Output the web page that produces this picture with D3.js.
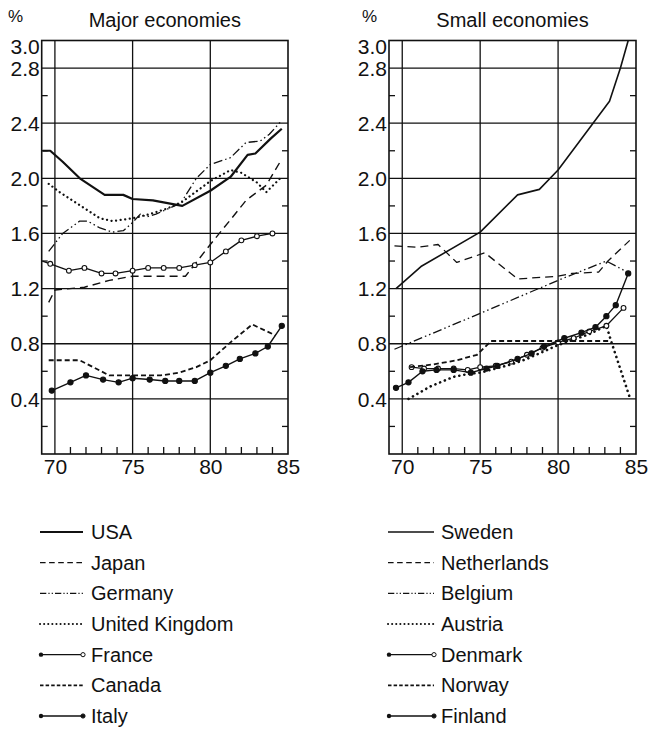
<!DOCTYPE html>
<html><head><meta charset="utf-8">
<script src="https://cdn.jsdelivr.net/npm/d3@7"></script>
<style>
html,body{margin:0;padding:0;background:#fff;}
text{font-family:"Liberation Sans",Arial,Helvetica,sans-serif;fill:#111;}
</style></head>
<body><svg id="c" width="650" height="732"></svg>
<script>
// ---- data (year, % value) ----
const usa = [[69.2,2.20],[69.7,2.20],[70.5,2.12],[71.6,2.00],[73.2,1.88],[74.4,1.88],[75,1.85],[76.3,1.84],[78.2,1.80],[80,1.91],[81.3,2.01],[82.4,2.17],[82.9,2.18],[83.9,2.29],[84.6,2.36]];
const japan = [[69.6,1.10],[70,1.19],[71.9,1.21],[73.5,1.26],[75,1.29],[78.4,1.29],[80,1.52],[81.3,1.70],[82.3,1.84],[83.6,1.95],[84.6,2.14]];
const germany = [[69.6,1.47],[70.5,1.60],[71.6,1.69],[72.1,1.69],[72.9,1.64],[73.7,1.61],[74.4,1.62],[75,1.68],[75.5,1.74],[75.9,1.72],[76.5,1.74],[78.1,1.82],[79.1,2.00],[80,2.10],[81.3,2.15],[82.3,2.26],[83.2,2.27],[83.8,2.32],[84.6,2.42]];
const uk = [[69.6,1.96],[70.3,1.90],[72.9,1.71],[73.7,1.69],[75,1.71],[76.1,1.74],[77.2,1.78],[78.2,1.83],[80,1.98],[81.3,2.06],[82,2.04],[83,1.97],[83.6,1.90],[84.5,2.00]];
const france = [[69.2,1.40],[69.7,1.38],[70.9,1.33],[71.9,1.35],[73,1.31],[73.9,1.31],[75,1.33],[76,1.35],[77,1.35],[78,1.35],[79,1.37],[80,1.39],[81,1.47],[82,1.55],[83,1.58],[84,1.60]];
const canada = [[69.6,0.68],[71.6,0.68],[73.5,0.57],[76.8,0.57],[78,0.59],[79.1,0.63],[80,0.68],[81.3,0.81],[82.7,0.94],[84.2,0.86]];
const italy = [[69.8,0.46],[71,0.52],[72,0.57],[73.1,0.54],[74.1,0.52],[75,0.55],[76.1,0.54],[77.1,0.53],[78,0.53],[79,0.53],[80,0.59],[81,0.64],[81.9,0.69],[82.9,0.73],[83.7,0.78],[84.6,0.93]];

const sweden = [[69.6,1.20],[71.2,1.36],[75,1.61],[77.4,1.88],[78.8,1.92],[80,2.06],[83.3,2.56],[84,2.80],[84.5,3.0]];
const netherlands = [[69.5,1.51],[71,1.50],[72.3,1.52],[73.5,1.39],[75.3,1.46],[77.4,1.27],[80,1.29],[80.9,1.31],[82.6,1.32],[83.2,1.40],[84.6,1.55]];
const belgium = [[69.5,0.76],[75,1.02],[80,1.26],[83.1,1.40],[84.6,1.31]];
const austria = [[70.4,0.40],[71.8,0.49],[73.3,0.56],[74.2,0.58],[75,0.59],[76,0.62],[77,0.65],[78,0.69],[79,0.74],[80,0.79],[81,0.83],[82,0.87],[83.1,0.93],[83.4,0.82],[84.6,0.41]];
const denmark = [[70.6,0.63],[71.4,0.62],[72.3,0.62],[73.3,0.62],[74.2,0.61],[75,0.63],[76,0.64],[77,0.67],[78,0.72],[79,0.77],[80,0.81],[81,0.84],[82,0.89],[83.1,0.93],[84.2,1.06]];
const norway = [[70.5,0.63],[72,0.65],[73.5,0.68],[74.8,0.72],[75.7,0.82],[83.4,0.82]];
const finland = [[69.6,0.48],[70.4,0.52],[71.3,0.60],[72.2,0.61],[73.3,0.61],[74.4,0.59],[75.4,0.62],[76.1,0.64],[77.4,0.69],[78.3,0.73],[79.1,0.78],[80.4,0.84],[81.5,0.88],[82.4,0.92],[83.1,1.00],[83.7,1.08],[84.5,1.31]];

const majorNames = ["USA","Japan","Germany","United Kingdom","France","Canada","Italy"];
const smallNames = ["Sweden","Netherlands","Belgium","Austria","Denmark","Norway","Finland"];
const titles = ["Major economies","Small economies"];
const yLabelValues = [0.4,0.8,1.2,1.6,2.0,2.4,2.8,3.0];
const gridY = [0.4,0.8,1.2,1.6,2.0,2.4,2.8];
const minorY = [0.2,0.6,1.0,1.4,1.8,2.2,2.6];
const xLabelValues = [70,75,80,85];
const gridX = [70,75,80];
const minorX = [71,72,73,74,76,77,78,79,81,82,83,84];

// ---- styles ----
const styles = {
  "USA":{w:2.2,dash:null},
  "Japan":{w:1.4,dash:"8,5"},
  "Germany":{w:1.3,dash:"9,3,1.5,3,1.5,3"},
  "United Kingdom":{w:2.2,dash:"0.1,4.5",cap:"round"},
  "France":{w:1.3,dash:null,marker:"open"},
  "Canada":{w:1.8,dash:"5,3"},
  "Italy":{w:1.4,dash:null,marker:"filled"},
  "Sweden":{w:1.6,dash:null},
  "Netherlands":{w:1.3,dash:"8,5"},
  "Belgium":{w:1.3,dash:"9,3,1.5,3,1.5,3"},
  "Austria":{w:2.6,dash:"0.1,5",cap:"round"},
  "Denmark":{w:1.3,dash:null,marker:"open"},
  "Norway":{w:1.8,dash:"5,3"},
  "Finland":{w:1.4,dash:null,marker:"filled"}
};
const majorData = [usa,japan,germany,uk,france,canada,italy];
const smallData = [sweden,netherlands,belgium,austria,denmark,norway,finland];

const svg = d3.select("#c");
const y = d3.scaleLinear().domain([0,3]).range([454,40.5]);
const xL = d3.scaleLinear().domain([69.15,85]).range([41.7,288]);
const xR = d3.scaleLinear().domain([69.15,85]).range([389,636]);
const INK = "#111";

function panel(x, title, names, data, pctX) {
  const g = svg.append("g");
  const [x0,x1] = x.range();
  const [yb,yt] = y.range();
  // grid
  g.selectAll(".gh").data(gridY).join("line")
    .attr("x1",x0).attr("x2",x1).attr("y1",d=>y(d)).attr("y2",d=>y(d))
    .attr("stroke",INK).attr("stroke-width",1.3);
  g.selectAll(".gv").data(gridX).join("line")
    .attr("x1",d=>x(d)).attr("x2",d=>x(d)).attr("y1",yb).attr("y2",yt)
    .attr("stroke",INK).attr("stroke-width",1.3);
  // minor ticks on both sides
  minorY.forEach(v=>{
    g.append("line").attr("x1",x0).attr("x2",x0+6).attr("y1",y(v)).attr("y2",y(v)).attr("stroke",INK).attr("stroke-width",1.3);
    g.append("line").attr("x1",x1-6).attr("x2",x1).attr("y1",y(v)).attr("y2",y(v)).attr("stroke",INK).attr("stroke-width",1.3);
  });
  g.selectAll(".mx").data(minorX).join("line")
    .attr("x1",d=>x(d)).attr("x2",d=>x(d)).attr("y1",yb).attr("y2",yb-7)
    .attr("stroke",INK).attr("stroke-width",1.3);
  // frame
  g.append("rect").attr("x",x0).attr("y",yt).attr("width",x1-x0).attr("height",yb-yt)
    .attr("fill","none").attr("stroke",INK).attr("stroke-width",1.6);
  // axes labels
  const ya = g.append("g").attr("transform",`translate(${x0},0)`)
    .call(d3.axisLeft(y).tickValues(yLabelValues).tickSize(0).tickPadding(2).tickFormat(d3.format(".1f")));
  ya.select(".domain").remove();
  ya.selectAll("text").attr("font-size",21).style("font-family","Liberation Sans, Arial, sans-serif").attr("fill",INK)
    .attr("dy", d => d===3.0 ? "0.6em" : "0.34em");
  const xa = g.append("g").attr("transform",`translate(0,${yb})`)
    .call(d3.axisBottom(x).tickValues(xLabelValues).tickSize(0).tickPadding(5).tickFormat(d3.format("d")));
  xa.select(".domain").remove();
  xa.selectAll("text").attr("font-size",21).style("font-family","Liberation Sans, Arial, sans-serif").attr("fill",INK);
  // title
  g.append("text").attr("x",(x0+x1)/2).attr("y",27).attr("text-anchor","middle")
    .attr("font-size",20).text(title);
  g.append("text").attr("x",pctX).attr("y",22).attr("font-size",17).text("%");
  // series
  const line = d3.line().x(d=>x(d[0])).y(d=>y(d[1]));
  names.forEach((n,i)=>{
    const s = styles[n], d = data[i];
    g.append("path").datum(d).attr("d",line).attr("fill","none").attr("stroke",INK)
      .attr("stroke-width",s.w).attr("stroke-dasharray",s.dash).attr("stroke-linecap",s.cap||"butt")
      .attr("stroke-linejoin","round");
    if (s.marker) {
      g.selectAll(null).data(d.filter(p=>p[0]>69.5)).join("circle")
        .attr("cx",p=>x(p[0])).attr("cy",p=>y(p[1]))
        .attr("r", s.marker==="open"?2.4:2.6)
        .attr("fill", s.marker==="open"?"#fff":INK)
        .attr("stroke",INK).attr("stroke-width",1.1);
    }
  });
}
panel(xL, titles[0], majorNames, majorData, 8);
panel(xR, titles[1], smallNames, smallData, 362);

// legends
function legend(names, lx0, lx1, tx) {
  const g = svg.append("g");
  const ly = d3.scaleLinear().domain([0,6]).range([532,716]);
  names.forEach((n,i)=>{
    const s = styles[n], yy = ly(i);
    g.append("line").attr("x1",lx0).attr("x2",lx1).attr("y1",yy).attr("y2",yy)
      .attr("stroke",INK).attr("stroke-width",Math.min(s.w,2)).attr("stroke-dasharray",
        s.cap ? "0.1,4" : (s.dash? s.dash.split(",").map(v=>Math.max(+v*0.7,1.2)).join(","):null))
      .attr("stroke-linecap",s.cap||"butt");
    if (s.marker) {
      g.append("circle").attr("cx",lx0+1).attr("cy",yy).attr("r",2.2).attr("fill",INK);
      g.append("circle").attr("cx",lx1).attr("cy",yy).attr("r",2.1)
        .attr("fill",s.marker==="open"?"#fff":INK).attr("stroke",INK).attr("stroke-width",1);
    }
    g.append("text").attr("x",tx).attr("y",yy).attr("dy","0.35em").attr("font-size",20).text(n);
  });
}
legend(majorNames, 40, 83, 91);
legend(smallNames, 388, 434, 441);
</script></body></html>
